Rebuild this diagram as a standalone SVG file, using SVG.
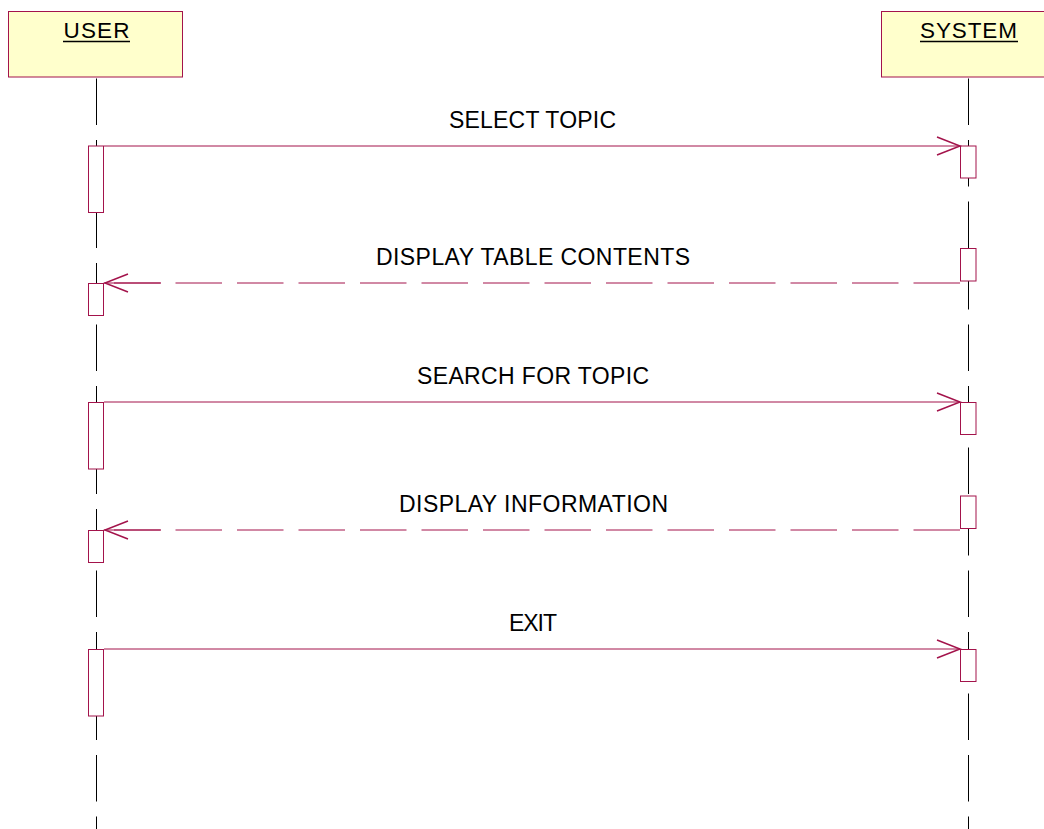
<svg xmlns="http://www.w3.org/2000/svg" width="1044" height="829" viewBox="0 0 1044 829">
<style>
.hdr{fill:#FFFFCC;stroke:#A3134B;stroke-width:1}
.life{stroke:#000;stroke-width:1;stroke-dasharray:46.5 15;fill:none}
.act{fill:#fff;stroke:#A3134B;stroke-width:1}
.msg{stroke:#A3134B;stroke-width:1;fill:none}
.dash{stroke-dasharray:46.5 15}
.head{stroke:#A3134B;stroke-width:1.5;fill:none}
.t{font-family:"Liberation Sans",Arial,sans-serif;font-size:23px;fill:#000;text-anchor:middle}
.h{font-family:"Liberation Sans",Arial,sans-serif;font-size:22.5px;fill:#000;text-anchor:middle}
.ul{stroke:#000;stroke-width:1.5}
</style>
<rect width="1044" height="829" fill="#fff"/>
<g id="user">
<rect class="hdr" x="8.5" y="11.5" width="174" height="65.5"/>
<text class="h" x="96.5" y="37.5" textLength="66" lengthAdjust="spacing">USER</text>
<line class="ul" x1="63" y1="41.5" x2="130" y2="41.5"/>
<line class="life" x1="96.5" y1="78.5" x2="96.5" y2="829"/>
</g>
<g id="system">
<rect class="hdr" x="881.5" y="11.5" width="180" height="65.5"/>
<text class="h" x="968.5" y="37.5" textLength="97" lengthAdjust="spacing">SYSTEM</text>
<line class="ul" x1="920" y1="41.5" x2="1018" y2="41.5"/>
<line class="life" x1="968.5" y1="78.5" x2="968.5" y2="829"/>
</g>
<g id="activations">
<rect class="act" x="88.5" y="146" width="15" height="66.5"/>
<rect class="act" x="88.5" y="283.5" width="15" height="32"/>
<rect class="act" x="88.5" y="402.5" width="15" height="66.5"/>
<rect class="act" x="88.5" y="530.5" width="15" height="32"/>
<rect class="act" x="88.5" y="649.5" width="15" height="66.5"/>
<rect class="act" x="960.5" y="146" width="15.5" height="32"/>
<rect class="act" x="960.5" y="248.5" width="15.5" height="32.5"/>
<rect class="act" x="960.5" y="402.5" width="15.5" height="32"/>
<rect class="act" x="960.5" y="496" width="15.5" height="32.5"/>
<rect class="act" x="960.5" y="649.5" width="15.5" height="32"/>
</g>
<g id="connectors">
<line class="msg" x1="104" y1="146" x2="960" y2="146"/>
<path class="head" d="M937,137 L960,146 L937,155"/>
<line class="msg dash" x1="960" y1="283" x2="104" y2="283"/>
<line class="msg" x1="104" y1="283" x2="161" y2="283"/>
<path class="head" d="M128,274 L105,283 L128,292"/>
<line class="msg" x1="104" y1="402" x2="960" y2="402"/>
<path class="head" d="M937,393 L960,402 L937,411"/>
<line class="msg dash" x1="960" y1="530" x2="104" y2="530"/>
<line class="msg" x1="104" y1="530" x2="161" y2="530"/>
<path class="head" d="M128,521 L105,530 L128,539"/>
<line class="msg" x1="104" y1="649" x2="960" y2="649"/>
<path class="head" d="M937,640 L960,649 L937,658"/>
</g>
<g id="labels">
<text class="t" x="532.5" y="128" textLength="167" lengthAdjust="spacing">SELECT TOPIC</text>
<text class="t" x="533" y="265" textLength="314" lengthAdjust="spacing">DISPLAY TABLE CONTENTS</text>
<text class="t" x="533" y="384" textLength="232" lengthAdjust="spacing">SEARCH FOR TOPIC</text>
<text class="t" x="533.5" y="512" textLength="269" lengthAdjust="spacing">DISPLAY INFORMATION</text>
<text class="t" x="533" y="631" textLength="48" lengthAdjust="spacing">EXIT</text>
</g>
</svg>
